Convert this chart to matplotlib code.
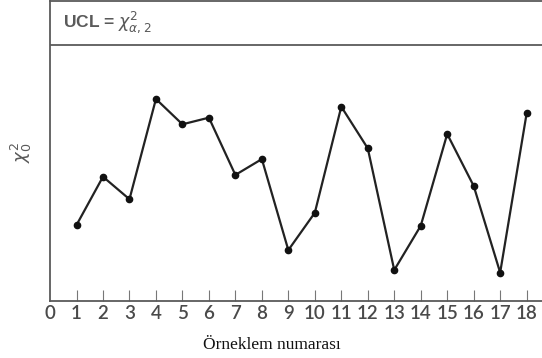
import matplotlib
matplotlib.use("Agg")
import matplotlib.pyplot as plt

# chi-square control chart: sample number vs chi2_0 statistic
samples = list(range(1, 19))
chi2_values = [2.96, 4.85, 3.97, 7.89, 6.90, 7.16, 4.92, 5.54, 1.98,
               3.44, 7.59, 5.96, 1.20, 2.93, 6.52, 4.49, 1.10, 7.33]
ucl = 10.0
x_ticks = list(range(0, 19))

fig = plt.figure(figsize=(5.42, 3.58), dpi=100)
ax = fig.add_axes([0.0923, 0.160, 0.9077, 0.837])

grey = "#5a5a5a"
ax.plot(samples, chi2_values, color="#222222", linewidth=1.6,
        marker="o", markersize=4.5, markerfacecolor="#111111",
        markeredgecolor="#111111")
ax.axhline(ucl, color=grey, linewidth=1.3)

ax.set_xlim(0, 18.58)
ax.set_ylim(0, 11.72)

for side in ["left", "bottom", "top"]:
    ax.spines[side].set_color(grey)
    ax.spines[side].set_linewidth(1.3)
ax.spines["right"].set_visible(False)

ax.set_xticks(x_ticks)
ax.set_xticklabels([str(t) for t in x_ticks], color="#4a4a4a", fontsize=13.5,
                   family="Lato", fontweight="semibold")
ax.tick_params(axis="x", direction="in", length=8, width=0.8, color="#777777", pad=3)
ax.xaxis.get_major_ticks()[0].tick1line.set_visible(False)
ax.set_yticks([])

ax.text(0.5, 10.7, r"UCL = $\chi^2_{\alpha,2}$", color=grey, fontsize=12.5,
        family="Liberation Sans", fontweight="bold", va="baseline")

fig.text(0.040, 0.575, r"$\chi^2_0$", rotation=90, color=grey, fontsize=13,
         ha="center", va="center")
fig.text(0.502, 0.036, "Örneklem numarası", family="Liberation Serif",
         fontsize=12.5, color="#111111", ha="center", va="center")

fig.savefig("out.png", dpi=100)
plt.close(fig)
